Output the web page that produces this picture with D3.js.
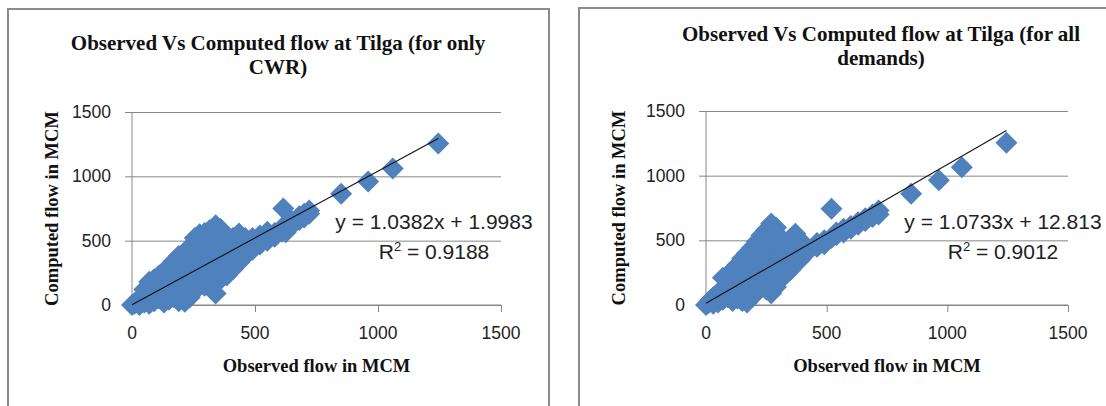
<!DOCTYPE html>
<html>
<head>
<meta charset="utf-8">
<script src="https://cdn.jsdelivr.net/npm/d3@7"></script>
<style>
  html, body { margin: 0; padding: 0; background: #fff; }
  svg { display: block; }
</style>
</head>
<body>
<svg id="chart" width="1106" height="406"></svg>
<script>
// ---------- data ----------
const axisTicks = [0, 500, 1000, 1500];

const titleCWR = ["Observed Vs Computed flow at Tilga (for only", "CWR)"];
const titleAll = ["Observed Vs Computed flow at Tilga (for all", "demands)"];
const xAxisTitle = "Observed flow in MCM";
const yAxisTitle = "Computed flow in MCM";

// chart 1: only CWR  (observed, computed)
const obsCWR = [
  0, 10, 20, 30, 30, 50, 50, 50, 70, 70, 70, 70, 90, 90, 90, 110, 110, 110,
  130, 130, 130, 130, 150, 150, 150, 150, 170, 170, 170, 170,
  190, 190, 190, 190, 190, 215, 215, 215, 215, 215, 215,
  235, 235, 235, 235, 235, 235, 255, 255, 255, 255, 255, 255,
  275, 275, 275, 275, 275, 275, 295, 295, 295, 295, 295, 295,
  315, 315, 315, 315, 315, 315, 340, 340, 340, 340, 340, 340, 340,
  360, 360, 360, 360, 360, 360, 385, 385, 385, 385, 410, 410, 410, 410,
  435, 435, 435, 435, 460, 460, 460, 490, 490, 490, 520, 520, 520,
  550, 550, 550, 580, 580, 610, 610, 615, 625, 650, 650, 680, 680,
  700, 700, 720, 720, 850, 960, 1060, 1245
];
const compCWR = [
  0, 10, 30, 0, 50, 20, 80, 120, 10, 60, 140, 180, 30, 100, 200, 50, 150, 230,
  20, 90, 180, 260, 40, 130, 220, 300, 60, 170, 260, 340,
  30, 120, 210, 300, 380, 25, 100, 180, 260, 340, 410,
  60, 150, 230, 310, 390, 450, 110, 200, 280, 360, 440, 520,
  170, 250, 330, 410, 490, 550, 150, 230, 310, 390, 470, 560,
  200, 280, 360, 440, 520, 580, 90, 180, 260, 340, 420, 500, 620,
  200, 280, 360, 440, 520, 590, 230, 310, 390, 470, 280, 360, 440, 520,
  330, 410, 490, 555, 380, 450, 520, 430, 480, 520, 470, 510, 540,
  500, 540, 570, 530, 560, 570, 600, 750, 565, 620, 650, 660, 690,
  680, 710, 710, 735, 865, 960, 1060, 1255
];

// chart 2: all demands  (observed, computed)
const obsAll = [
  0, 10, 20, 30, 30, 50, 50, 70, 70, 70, 90, 90, 90,
  110, 110, 110, 110, 130, 130, 130, 130, 150, 150, 150, 150, 150,
  170, 170, 170, 170, 170, 170, 190, 190, 190, 190, 190, 190,
  210, 210, 210, 210, 210, 210, 230, 230, 230, 230, 230, 230,
  250, 250, 250, 250, 250, 250, 250, 270, 270, 270, 270, 270, 270, 270, 270,
  290, 290, 290, 290, 290, 290, 290, 310, 310, 310, 310, 310,
  330, 330, 330, 330, 350, 350, 350, 350, 370, 370, 370, 370,
  390, 390, 390, 410, 410, 460, 460, 490, 490, 520, 520,
  540, 540, 570, 570, 600, 600, 630, 630, 660, 660, 690, 690, 715, 715,
  850, 965, 1060, 1245
];
const compAll = [
  0, 15, 40, 10, 60, 20, 90, 40, 130, 210, 60, 160, 230,
  30, 100, 200, 270, 50, 140, 230, 310, 30, 110, 190, 280, 360,
  20, 80, 160, 240, 320, 400, 60, 140, 220, 300, 380, 440,
  100, 180, 260, 340, 420, 490, 150, 230, 310, 390, 470, 540,
  120, 200, 280, 360, 440, 520, 580, 90, 170, 250, 330, 410, 490, 560, 630,
  140, 220, 300, 380, 460, 540, 600, 200, 280, 360, 440, 520,
  240, 320, 400, 480, 270, 350, 430, 510, 320, 400, 480, 550,
  350, 430, 500, 390, 460, 450, 480, 470, 500, 520, 745,
  540, 560, 560, 590, 590, 610, 620, 640, 650, 670, 680, 700, 700, 730,
  860, 965, 1065, 1255
];

const trendCWR = { slope: 1.0382, intercept: 1.9983, r2: "0.9188", eq: "y = 1.0382x + 1.9983" };
const trendAll = { slope: 1.0733, intercept: 12.813, r2: "0.9012", eq: "y = 1.0733x + 12.813" };

// ---------- drawing ----------
const svg = d3.select("#chart");
const GRID = "#878787";
const BLUE = "#4F81BD";
const SERIF = "'Liberation Serif', 'Times New Roman', serif";
const SANS = "'Liberation Sans', Arial, sans-serif";

function drawChart(cfg, obs, comp, trend, titleLines) {
  const g = svg.append("g");
  // outer chart border
  g.append("rect")
    .attr("x", cfg.box[0]).attr("y", cfg.box[1])
    .attr("width", cfg.box[2]).attr("height", cfg.box[3])
    .attr("fill", "#fff").attr("stroke", "#8c8c8c").attr("stroke-width", 2);

  const x = d3.scaleLinear().domain([0, 1500]).range([cfg.x0, cfg.x1]);
  const y = d3.scaleLinear().domain([0, 1500]).range([cfg.y0, cfg.y1]);

  // gridlines + y axis ticks
  const yAxis = d3.axisLeft(y).tickValues(axisTicks).tickSize(-(cfg.x1 - cfg.x0)).tickFormat("");
  const gy = g.append("g").attr("transform", `translate(${cfg.x0},0)`).call(yAxis);
  gy.select(".domain").remove();
  gy.selectAll(".tick line").attr("stroke", GRID).attr("x1", -7).attr("stroke-width", 1);
  g.append("line").attr("x1", cfg.x0).attr("x2", cfg.x0).attr("y1", y(1500)).attr("y2", y(0))
    .attr("stroke", GRID);

  // x axis
  const xAxis = d3.axisBottom(x).tickValues(axisTicks).tickSize(7).tickFormat("");
  const gx = g.append("g").attr("transform", `translate(0,${cfg.y0})`).call(xAxis);
  gx.select(".domain").attr("stroke", GRID).attr("d", `M${cfg.x0},0H${cfg.x1}`);
  gx.selectAll(".tick line").attr("stroke", GRID);

  // tick labels
  g.selectAll("text.ylab").data(axisTicks).enter().append("text")
    .attr("x", cfg.x0 - 21).attr("y", d => y(d))
    .attr("text-anchor", "end").attr("dominant-baseline", "central")
    .attr("font-family", SANS).attr("font-size", 17.5).attr("fill", "#222")
    .text(d => d);
  g.selectAll("text.xlab").data(axisTicks).enter().append("text")
    .attr("x", d => x(d)).attr("y", cfg.y0 + 28)
    .attr("text-anchor", "middle").attr("dominant-baseline", "central")
    .attr("font-family", SANS).attr("font-size", 17.5).attr("fill", "#222")
    .text(d => d);

  // markers
  const pts = obs.map((o, i) => [o, comp[i]]);
  const r = 11;
  g.append("g").selectAll("path").data(pts).enter().append("path")
    .attr("d", `M0,${-r}L${r},0L0,${r}L${-r},0Z`)
    .attr("transform", d => `translate(${x(d[0])},${y(d[1])})`)
    .attr("fill", BLUE);

  // trendline
  const xmin = d3.min(obs), xmax = d3.max(obs);
  g.append("line")
    .attr("x1", x(xmin)).attr("y1", y(trend.slope * xmin + trend.intercept))
    .attr("x2", x(xmax)).attr("y2", y(trend.slope * xmax + trend.intercept))
    .attr("stroke", "#111").attr("stroke-width", 1.1);

  // trendline label
  g.append("text").attr("x", cfg.eqX).attr("y", 229).attr("text-anchor", "middle")
    .attr("font-family", SANS).attr("font-size", 21).attr("fill", "#222")
    .text(trend.eq);
  const r2 = g.append("text").attr("x", cfg.eqX).attr("y", 259).attr("text-anchor", "middle")
    .attr("font-family", SANS).attr("font-size", 21).attr("fill", "#222");
  r2.append("tspan").text("R");
  r2.append("tspan").attr("font-size", 13).attr("dy", -8).text("2");
  r2.append("tspan").attr("dy", 8).text(" = " + trend.r2);

  // title
  titleLines.forEach((t, i) => {
    g.append("text").attr("x", cfg.titleX).attr("y", cfg.titleY + i * 24)
      .attr("text-anchor", "middle").attr("dominant-baseline", "central")
      .attr("font-family", SERIF).attr("font-weight", "bold").attr("font-size", 21)
      .attr("fill", "#111").text(t);
  });

  // axis titles
  g.append("text").attr("x", (cfg.x0 + cfg.x1) / 2).attr("y", 366)
    .attr("text-anchor", "middle").attr("dominant-baseline", "central")
    .attr("font-family", SERIF).attr("font-weight", "bold").attr("font-size", 18.5)
    .attr("fill", "#111").text(xAxisTitle);
  g.append("text")
    .attr("transform", `translate(${cfg.yTitleX},${(cfg.y0 + cfg.y1) / 2}) rotate(-90)`)
    .attr("text-anchor", "middle").attr("dominant-baseline", "central")
    .attr("font-family", SERIF).attr("font-weight", "bold").attr("font-size", 18.5)
    .attr("fill", "#111").text(yAxisTitle);
}

drawChart({ box: [8, 9, 541, 420], x0: 132, x1: 501, y0: 305, y1: 112,
            titleX: 278, titleY: 43, eqX: 434, yTitleX: 52 },
          obsCWR, compCWR, trendCWR, titleCWR);
drawChart({ box: [579, 8, 604, 420], x0: 706, x1: 1068, y0: 305, y1: 111,
            titleX: 881, titleY: 34, eqX: 1003, yTitleX: 619 },
          obsAll, compAll, trendAll, titleAll);
</script>
</body>
</html>
